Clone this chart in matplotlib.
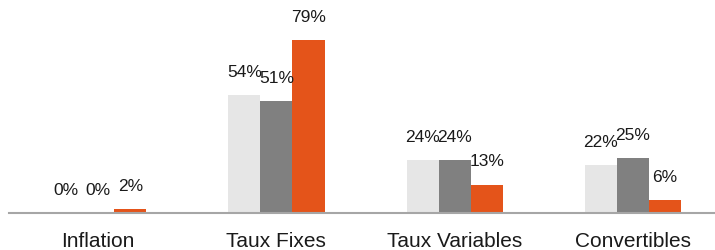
import matplotlib
matplotlib.use("Agg")
import matplotlib.pyplot as plt
import numpy as np

categories = ["Inflation", "Taux Fixes", "Taux Variables", "Convertibles"]
series_a = [0, 54, 24, 22]
series_b = [0, 51, 24, 25]
series_c = [2, 79, 13, 6]
colors = ["#E6E6E6", "#808080", "#E4541A"]

plt.rcParams['font.family'] = ['Liberation Sans', 'DejaVu Sans']

fig = plt.figure(figsize=(7.15, 2.51), dpi=100)
ax = fig.add_axes([9/715, 1 - 214/251, 1 - 9/715, 214/251])

x = np.arange(len(categories))
w = 0.18
for i, (vals, c) in enumerate(zip([series_a, series_b, series_c], colors)):
    pos = x + (i - 1) * w
    bars = ax.bar(pos, vals, width=w, color=c, edgecolor='none', zorder=2)
    for p, v in zip(pos, vals):
        ax.annotate(f"{v}%", (p, v), xytext=(0, 17), textcoords='offset points',
                    ha='center', va='center', fontsize=12.5, color='#1a1a1a')

ax.set_xlim(-0.5, 3.46)
ax.set_ylim(0, 97.7)
ax.set_xticks(x)
ax.set_xticklabels(categories, fontsize=15, color='#1a1a1a')
ax.tick_params(axis='x', length=0, pad=13)
ax.set_yticks([])
for s in ['top', 'right', 'left']:
    ax.spines[s].set_visible(False)
ax.spines['bottom'].set_color('#A6A6A6')
ax.spines['bottom'].set_linewidth(1.5)
ax.spines['bottom'].set_zorder(3)
ax.patch.set_alpha(0)

fig.savefig("out.png", dpi=100)
